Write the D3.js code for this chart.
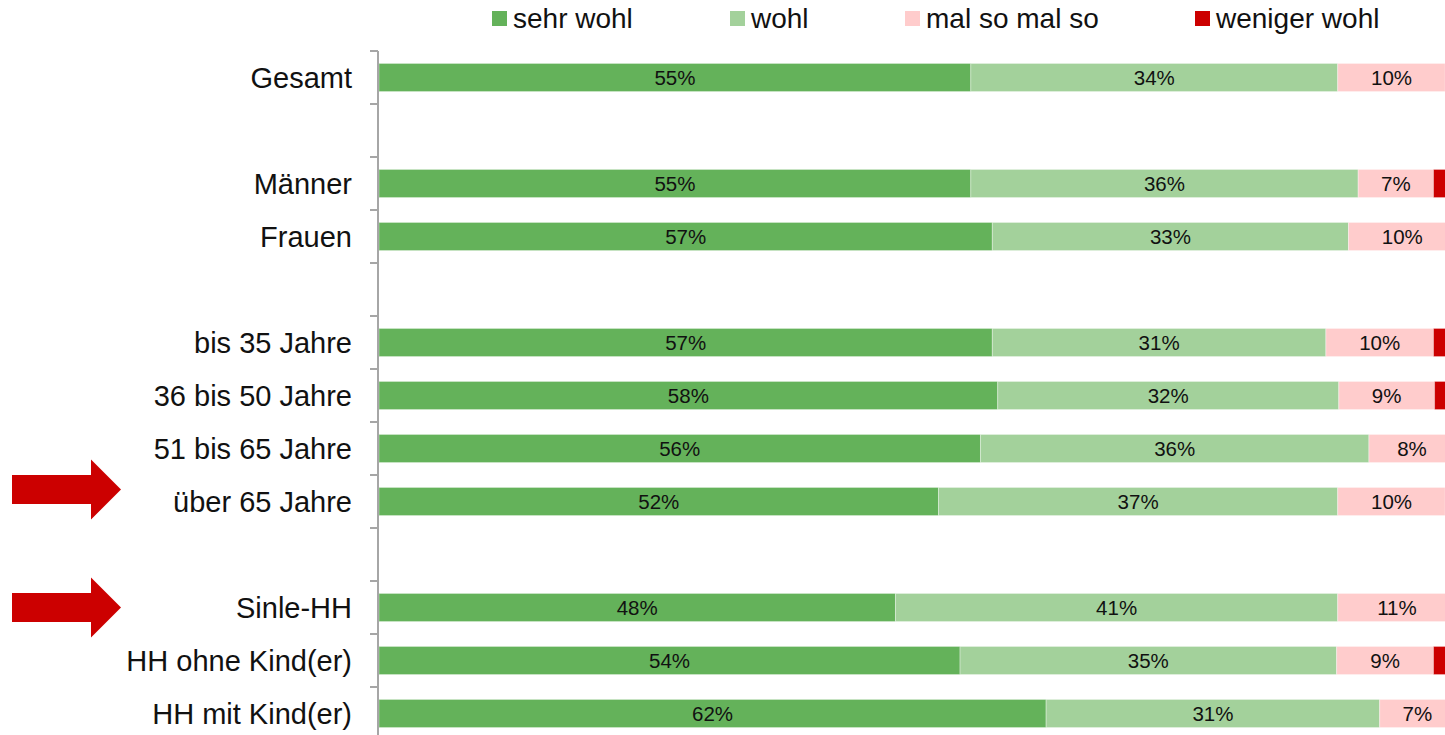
<!DOCTYPE html>
<html>
<head>
<meta charset="utf-8">
<script src="https://cdn.jsdelivr.net/npm/d3@7"></script>
<style>
  html, body { margin: 0; padding: 0; background: #fff; }
  svg { display: block; font-family: "Liberation Sans", Arial, sans-serif; }
</style>
</head>
<body>
<svg id="chart" width="1445" height="735"></svg>
<script>
// ---- data ----
const categories = ["Gesamt", "", "Männer", "Frauen", "", "bis 35 Jahre", "36 bis 50 Jahre", "51 bis 65 Jahre", "über 65 Jahre", "", "Sinle-HH", "HH ohne Kind(er)", "HH mit Kind(er)"];
const seriesNames = ["sehr wohl", "wohl", "mal so mal so", "weniger wohl"];
const sehrWohl = [55, null, 55, 57, null, 57, 57.5, 55.9, 52, null, 48, 54, 62];
const wohl     = [34.1, null, 36, 33.1, null, 31, 31.7, 36.1, 37.1, null, 41.1, 35, 31];
const malSo    = [10, null, 7, 10, null, 10, 8.9, 8, 10, null, 11, 9, 7];
const weniger  = [0.9, null, 2, 0, null, 2, 1.9, 0, 0.9, null, 0, 2, 0];
const highlighted = ["über 65 Jahre", "Sinle-HH"];

const colors = ["#64b25a", "#a3d19b", "#ffcccc", "#cc0000"];
const showLabel = [true, true, true, false];

// ---- layout ----
const svg = d3.select("#chart");
const W = 1445, H = 735;
const x = d3.scaleLinear().domain([0, 100]).range([379, 1455]);
const yTop = 51, rowStep = 53;
const y = d3.scaleBand().domain(d3.range(categories.length)).range([yTop, yTop + rowStep * categories.length]).paddingInner(0.47).paddingOuter(0.235);

const series = [sehrWohl, wohl, malSo, weniger];
const rows = categories.map((c, i) => ({ i, cat: c, vals: series.map(s => s[i]) }));

// bars
const g = svg.append("g");
rows.forEach(r => {
  if (r.vals[0] == null) return;
  let acc = 0;
  r.vals.forEach((v, k) => {
    if (!v) return;
    const x0 = x(acc), x1 = x(acc + v);
    g.append("rect")
      .attr("x", x0).attr("y", y(r.i))
      .attr("width", x1 - x0).attr("height", y.bandwidth())
      .attr("fill", colors[k])
      .attr("stroke", "rgba(255,255,255,0.35)").attr("stroke-width", 1);
    if (showLabel[k]) {
      g.append("text")
        .attr("x", (x0 + x1) / 2).attr("y", y(r.i) + y.bandwidth() / 2)
        .attr("dy", "0.36em").attr("text-anchor", "middle")
        .attr("font-size", 20.5).attr("fill", "#111")
        .text(Math.round(v) + "%");
    }
    acc += v;
  });
});

// axis
const step = y.step();
const ax = svg.append("g");
ax.append("line").attr("x1", 378).attr("x2", 378).attr("y1", yTop).attr("y2", H)
  .attr("stroke", "#a6a6a6").attr("stroke-width", 2);
d3.range(categories.length + 1).forEach(k => {
  const yy = yTop + k * step;
  ax.append("line").attr("x1", 370).attr("x2", 378).attr("y1", yy).attr("y2", yy)
    .attr("stroke", "#a6a6a6").attr("stroke-width", 2);
});
rows.forEach(r => {
  if (!r.cat) return;
  ax.append("text")
    .attr("x", 352).attr("y", y(r.i) + y.bandwidth() / 2)
    .attr("dy", "0.36em").attr("text-anchor", "end")
    .attr("font-size", 29).attr("fill", "#111")
    .text(r.cat);
});

// legend
const legX = [492, 730, 905, 1195];
const leg = svg.append("g");
seriesNames.forEach((n, k) => {
  leg.append("rect").attr("x", legX[k]).attr("y", 11).attr("width", 15).attr("height", 15).attr("fill", colors[k]);
  leg.append("text").attr("x", legX[k] + 21).attr("y", 27.5)
    .attr("font-size", 28).attr("fill", "#111").text(n);
});

// arrows
const arrowOffsets = { "über 65 Jahre": -12, "Sinle-HH": 0 };
highlighted.forEach(h => {
  const i = categories.indexOf(h);
  const cy = y(i) + y.bandwidth() / 2 + arrowOffsets[h];
  const pts = [[12, cy - 14.5], [91, cy - 14.5], [91, cy - 30], [121, cy], [91, cy + 30], [91, cy + 14.5], [12, cy + 14.5]];
  svg.append("path").attr("d", d3.line()(pts) + "Z").attr("fill", "#cc0000");
});
</script>
</body>
</html>
